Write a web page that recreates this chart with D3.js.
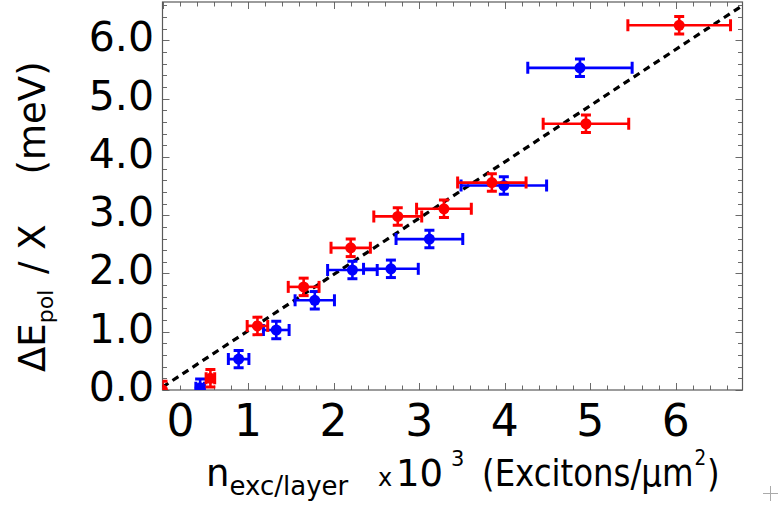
<!DOCTYPE html>
<html><head><meta charset="utf-8">
<script src="https://cdn.jsdelivr.net/npm/d3@7"></script>
<style>body{margin:0;background:#fff}svg{display:block}text{font-family:"DejaVu Sans",Verdana,sans-serif;fill:#000}</style>
</head><body>
<svg id="c" width="779" height="506"></svg>
<script>
// Red series
const redX    = [0.00, 0.56, 1.11, 1.65, 2.20, 2.75, 3.29, 3.85, 4.95, 6.04];
const redY    = [0.00, 0.20, 1.10, 1.77, 2.44, 2.98, 3.11, 3.56, 4.57, 6.26];
const redXErr = [0.00, 0.05, 0.12, 0.18, 0.23, 0.28, 0.32, 0.40, 0.50, 0.60];
const redYErr = [0.15, 0.15, 0.15, 0.15, 0.15, 0.15, 0.15, 0.15, 0.15, 0.15];
// Blue series
const blueX    = [0.44, 0.89, 1.33, 1.78, 2.22, 2.67, 3.12, 3.99, 4.88];
const blueY    = [0.04, 0.53, 1.03, 1.54, 2.06, 2.08, 2.59, 3.51, 5.53];
const blueXErr = [0.05, 0.12, 0.15, 0.23, 0.29, 0.32, 0.39, 0.50, 0.61];
const blueYErr = [0.15, 0.15, 0.15, 0.15, 0.15, 0.15, 0.15, 0.15, 0.15];
// Linear guide (dashed)
const lineX = [0.00, 6.78];
const lineY = [0.05, 6.60];
// Ticks
const xTickVals = [0, 1, 2, 3, 4, 5, 6];
const xTickLabels = ["0", "1", "2", "3", "4", "5", "6"];
const yTickVals = [0, 1, 2, 3, 4, 5, 6];
const yTickLabels = ["0.0", "1.0", "2.0", "3.0", "4.0", "5.0", "6.0"];

const L = 162.5, R = 742.5, T = 2, B = 390;
const x = d3.scaleLinear().domain([0, 6.78]).range([L, R]);
const y = d3.scaleLinear().domain([0, 6.66]).range([B, T]);
const svg = d3.select("#c");

svg.append("defs").append("clipPath").attr("id", "clip")
  .append("rect").attr("x", L).attr("y", T).attr("width", R - L).attr("height", B - T);

// ticks on all four sides
const minorX = d3.range(0, 6.79, 0.2).map(v => +v.toFixed(2));
const minorY = d3.range(0, 6.67, 0.2).map(v => +v.toFixed(2));
const isMajor = v => Math.abs(v - Math.round(v)) < 1e-6;
const tg = svg.append("g").attr("stroke", "#6a6a6a").attr("stroke-width", 1);
minorX.forEach(v => {
  const len = isMajor(v) ? 7 : 4.5;
  const px = Math.round(x(v)) + 0.5;
  tg.append("line").attr("x1", px).attr("x2", px).attr("y1", B).attr("y2", B - len);
  tg.append("line").attr("x1", px).attr("x2", px).attr("y1", T).attr("y2", T + len);
});
minorY.forEach(v => {
  const len = isMajor(v) ? 7 : 4.5;
  const py = Math.round(y(v)) + 0.5;
  tg.append("line").attr("y1", py).attr("y2", py).attr("x1", L).attr("x2", L + len);
  tg.append("line").attr("y1", py).attr("y2", py).attr("x1", R).attr("x2", R - len);
});
svg.append("rect").attr("x", L).attr("y", T).attr("width", R - L).attr("height", B - T)
  .attr("fill", "none").attr("stroke", "#5a5a5a").attr("stroke-width", 1.2);

// tick labels
xTickVals.forEach((v, i) => {
  svg.append("text").attr("x", x(v) + (v === 0 ? 18 : 0)).attr("y", 436)
    .attr("text-anchor", "middle").attr("font-size", 44).text(xTickLabels[i]);
});
yTickVals.forEach((v, i) => {
  svg.append("text").attr("x", 154).attr("y", y(v) + 11)
    .attr("text-anchor", "end").attr("font-size", 41).text(yTickLabels[i]);
});

const plot = svg.append("g").attr("clip-path", "url(#clip)");

// dashed line
plot.append("line")
  .attr("x1", x(lineX[0])).attr("y1", y(lineY[0]))
  .attr("x2", x(lineX[1])).attr("y2", y(lineY[1]))
  .attr("stroke", "#000").attr("stroke-width", 3.2).attr("stroke-dasharray", "7,5");

function series(xs, ys, xe, ye, color) {
  const g = plot.append("g").attr("stroke", color).attr("fill", color);
  xs.forEach((xv, i) => {
    const cx = x(xv), cy = y(ys[i]);
    const x0 = x(xv - xe[i]), x1 = x(xv + xe[i]);
    const y0 = y(ys[i] - ye[i]), y1 = y(ys[i] + ye[i]);
    if (xe[i] > 0) {
      g.append("line").attr("x1", x0).attr("x2", x1).attr("y1", cy).attr("y2", cy).attr("stroke-width", 2.6);
      [x0, x1].forEach(px => g.append("line").attr("x1", px).attr("x2", px)
        .attr("y1", cy - 6).attr("y2", cy + 6).attr("stroke-width", 3));
    }
    g.append("line").attr("x1", cx).attr("x2", cx).attr("y1", y0).attr("y2", y1).attr("stroke-width", 2.6);
    [y0, y1].forEach(py => g.append("line").attr("y1", py).attr("y2", py)
      .attr("x1", cx - 5).attr("x2", cx + 5).attr("stroke-width", 3));
    g.append("circle").attr("cx", cx).attr("cy", cy).attr("r", 5.5).attr("stroke", "none");
  });
}
series(blueX, blueY, blueXErr, blueYErr, "#0000ff");
series(redX, redY, redXErr, redYErr, "#ff0000");

// y-axis title (rotated)
const yt = svg.append("text").attr("transform", "translate(45,372) rotate(-90)")
  .attr("font-size", 37);
yt.append("tspan").text("ΔE");
yt.append("tspan").attr("font-size", 22).attr("dy", 8).text("pol");
yt.append("tspan").attr("dy", -8).text(" / X").attr("dx", 4);
yt.append("tspan").attr("dx", 50).text("(meV)");

// x-axis title
const xg = svg.append("g").attr("font-size", 37);
const xt1 = xg.append("text").attr("x", 206).attr("y", 486);
xt1.append("tspan").text("n");
xt1.append("tspan").attr("font-size", 26).attr("dy", 9).text("exc/layer");
xg.append("text").attr("x", 378).attr("y", 486).attr("font-size", 24).text("x");
xg.append("text").attr("x", 396).attr("y", 486).text("10");
xg.append("text").attr("x", 451).attr("y", 466).attr("font-size", 21).text("3");
const xt2 = xg.append("text").attr("transform", "translate(482,486) scale(0.876,1)");
xt2.append("tspan").text("(Excitons/μm");
xt2.append("tspan").attr("font-size", 21).attr("dy", -21).attr("dx", 1).text("2");
xt2.append("tspan").attr("dy", 21).attr("dx", 1).text(")");

// small crosshair mark at bottom right
svg.append("path").attr("d", "M763,493.5H778M770.5,486V501").attr("stroke", "#aaa").attr("stroke-width", 1);
</script>
</body></html>
